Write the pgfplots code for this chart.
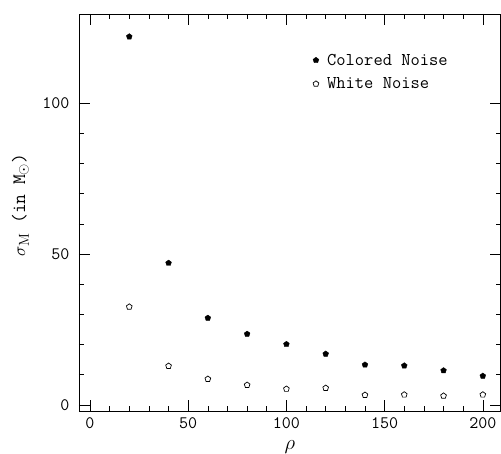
\documentclass[border=0pt]{standalone}
\usepackage{pgfplots}
\pgfplotsset{compat=1.18}
\newcommand\tickfont{\ttfamily\fontsize{17.5}{20}\selectfont}
\newcommand\legfont{\ttfamily\fontsize{18}{21}\selectfont}

\begin{document}
\begin{tikzpicture}
\begin{axis}[
    scale only axis,
    width=421.5pt, height=397pt,
    xmin=-5.6, xmax=209,
    ymin=-2, ymax=129.5,
    xtick={0,50,100,150,200},
    ytick={0,50,100},
    minor x tick num=4,
    minor y tick num=4,
    tick align=inside,
    major tick length=11pt,
    minor tick length=5pt,
    every tick/.style={black, line width=0.6pt},
    axis line style={line width=0.7pt},
    /pgf/number format/assume math mode=true,
    tick label style={font=\tickfont},
    xticklabel style={yshift=-3pt},
    yticklabel style={xshift=-6pt},
    xlabel={$\rho$},
    x label style={font=\fontsize{21}{24}\selectfont, at={(axis description cs:0.5,0)}, anchor=north, yshift=-26pt},
    ylabel={$\sigma_{\mathrm{M}}$\hspace{0.5em}(in\hspace{0.5em}M$_\odot$)},
    y label style={font=\ttfamily\fontsize{19}{22}\selectfont, at={(axis description cs:-0.139,0.519)}, anchor=center},
    legend style={draw=none, fill=none, font=\legfont, at={(axis description cs:0.547,0.91)}, anchor=north west, row sep=7pt, nodes={inner xsep=2pt}},
    legend cell align=left,
    legend image code/.code={
        \path (-3pt,0pt) (9pt,0pt);
        \draw[mark repeat=1,#1] plot coordinates {(0pt,0pt)};
    },
]
\addplot[only marks, mark=pentagon*, mark size=3pt, black] coordinates {
    (20,122) (40,47) (60,28.8) (80,23.5) (100,20.1)
    (120,16.9) (140,13.3) (160,13.0) (180,11.4) (200,9.6)
};
\addlegendentry{Colored Noise}
\addplot[only marks, mark=pentagon, mark size=3pt, black, mark options={line width=0.7pt}] coordinates {
    (20,32.5) (40,12.9) (60,8.6) (80,6.6) (100,5.3)
    (120,5.6) (140,3.3) (160,3.4) (180,3.0) (200,3.4)
};
\addlegendentry{White Noise}
\end{axis}
\pgfresetboundingbox
\useasboundingbox ([xshift=-79pt,yshift=-43pt]current axis.south west) rectangle ([xshift=0.5pt,yshift=14pt]current axis.north east);
\end{tikzpicture}
\end{document}
